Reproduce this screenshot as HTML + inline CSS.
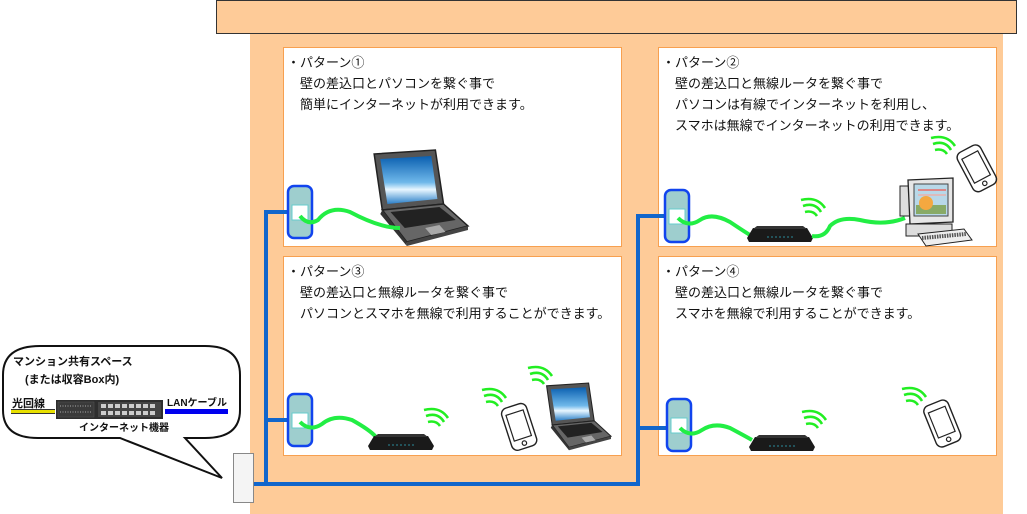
<!DOCTYPE html>
<html><head><meta charset="utf-8">
<style>
html,body{margin:0;padding:0;background:#fff;}
svg{display:block;}
text{font-family:"Liberation Sans","Noto Sans CJK JP",sans-serif;}
.t{font-size:13px;fill:#111;}
.b{font-size:11px;font-weight:bold;fill:#111;}
</style></head><body>
<svg width="1027" height="514" viewBox="0 0 1027 514" xmlns="http://www.w3.org/2000/svg">
<defs>
<linearGradient id="scr" x1="0" y1="0" x2="0" y2="1">
<stop offset="0" stop-color="#0a5fb0"/><stop offset="0.55" stop-color="#6fb8ea"/><stop offset="0.7" stop-color="#e8f6ff"/><stop offset="1" stop-color="#2a7fc8"/>
</linearGradient>
<g id="laptop">
<polygon points="8,4 68,0 76,54 16,60" fill="#555" stroke="#222" stroke-width="1.5"/>
<polygon points="14,9 64,6 70,49 21,54" fill="url(#scr)"/>
<polygon points="16,60 76,54 100,76 40,92" fill="#666" stroke="#222" stroke-width="1.5"/>
<polygon points="24,62 72,57 88,70 38,78" fill="#222"/>
<polygon points="58,78 72,75 78,82 64,85" fill="#aaa"/>
<polygon points="16,60 40,92 40,96 14,64" fill="#333"/>
<polygon points="40,92 100,76 100,80 40,96" fill="#444"/>
</g>
<g id="router">
<polygon points="6,4 60,4 66,14 64,18 2,18 0,14" fill="#1a1a1a"/>
<polygon points="10,2 56,2 60,5 6,5" fill="#333"/>
<line x1="20" y1="13" x2="46" y2="13" stroke="#2a8a9a" stroke-width="1" stroke-dasharray="2,2"/>
</g>
<g id="phone">
<rect x="0" y="0" width="26" height="44" rx="6" fill="#fff" stroke="#222" stroke-width="1.4"/>
<rect x="4" y="7" width="18" height="27" fill="#fff" stroke="#222" stroke-width="1.2"/>
<circle cx="13" cy="39" r="2.2" fill="none" stroke="#222" stroke-width="1.2"/>
</g>
<g id="wifi" fill="none" stroke="#22ee22" stroke-width="2.6">
<path d="M0,12 Q8,10 12,16"/><path d="M-2,6 Q10,2 16,12"/><path d="M-4,0 Q12,-4 20,8"/>
</g>
<g id="plate">
<rect x="0" y="0" width="24" height="52" rx="6" fill="#9ecece" stroke="#1144ee" stroke-width="2.5"/>
<rect x="4" y="19" width="16" height="15" fill="#fff" stroke="#6cc" stroke-width="1"/>
</g>
</defs>

<rect x="250" y="34" width="753" height="480" fill="#fecb98"/>
<rect x="216.5" y="0.5" width="800" height="33" fill="#fecb98" stroke="#333" stroke-width="1"/>

<rect x="283.5" y="47.5" width="338" height="199" fill="#fff" stroke="#f7a050" stroke-width="1"/>
<rect x="658.5" y="47.5" width="338" height="199" fill="#fff" stroke="#f7a050" stroke-width="1"/>
<rect x="283.5" y="256.5" width="338" height="199" fill="#fff" stroke="#f7a050" stroke-width="1"/>
<rect x="658.5" y="256.5" width="338" height="199" fill="#fff" stroke="#f7a050" stroke-width="1"/>

<g stroke="#1166cc" stroke-width="4" fill="none">
<polyline points="288,212 266,212 266,484"/>
<line x1="266" y1="420" x2="288" y2="420"/>
<polyline points="253,484 638,484 638,216 665,216"/>
<line x1="638" y1="428" x2="667" y2="428"/>
</g>

<text class="t" x="287" y="67">・パターン①</text>
<text class="t" x="300" y="88">壁の差込口とパソコンを繋ぐ事で</text>
<text class="t" x="300" y="109">簡単にインターネットが利用できます。</text>

<text class="t" x="662" y="67">・パターン②</text>
<text class="t" x="675" y="88">壁の差込口と無線ルータを繋ぐ事で</text>
<text class="t" x="675" y="109">パソコンは有線でインターネットを利用し、</text>
<text class="t" x="675" y="130">スマホは無線でインターネットの利用できます。</text>

<text class="t" x="287" y="276">・パターン③</text>
<text class="t" x="300" y="297">壁の差込口と無線ルータを繋ぐ事で</text>
<text class="t" x="300" y="318">パソコンとスマホを無線で利用することができます。</text>

<text class="t" x="662" y="276">・パターン④</text>
<text class="t" x="675" y="297">壁の差込口と無線ルータを繋ぐ事で</text>
<text class="t" x="675" y="318">スマホを無線で利用することができます。</text>

<use href="#laptop" transform="translate(366,150) scale(1.02,1)"/>
<use href="#plate" x="288" y="186"/>
<path d="M300,216 Q308,226 318,220 Q330,205 350,212 Q380,228 400,228" fill="none" stroke="#22ee44" stroke-width="4"/>

<use href="#plate" x="665" y="190"/>
<path d="M678,218 Q688,228 700,220 Q712,212 730,222 Q745,232 750,235" fill="none" stroke="#22ee44" stroke-width="4"/>
<use href="#router" x="747" y="224"/>
<path d="M812,236 Q825,238 830,226 Q840,216 860,220 Q885,226 905,218" fill="none" stroke="#22ee44" stroke-width="4"/>
<use href="#wifi" x="805" y="200"/>
<use href="#wifi" x="935" y="138"/>
<use href="#phone" transform="translate(955,155) rotate(-28)"/>
<g>
<rect x="900" y="186" width="12" height="30" fill="#ddd" stroke="#222"/>
<polygon points="908,180 953,178 953,222 910,224" fill="#e6e6e6" stroke="#222" stroke-width="1.3"/>
<rect x="914" y="184" width="34" height="32" fill="#b8d8e8" stroke="#444"/>
<rect x="916" y="205" width="30" height="9" fill="#8a6"/>
<circle cx="926" cy="203" r="7" fill="#f4a840"/>
<rect x="918" y="189" width="28" height="2" fill="#d88"/>
<rect x="918" y="194" width="28" height="2" fill="#dbb"/>
<rect x="906" y="224" width="46" height="12" fill="#ddd" stroke="#222"/>
<polygon points="918,234 964,229 972,240 926,246" fill="#eee" stroke="#222"/>
<line x1="922" y1="238" x2="966" y2="234" stroke="#555" stroke-width="4" stroke-dasharray="1.5,1"/>
</g>

<use href="#plate" x="288" y="394"/>
<path d="M300,422 Q310,432 322,424 Q334,414 352,420 Q370,430 376,437" fill="none" stroke="#22ee44" stroke-width="4"/>
<use href="#router" x="368" y="432"/>
<use href="#wifi" x="428" y="410"/>
<use href="#wifi" x="486" y="390"/>
<use href="#wifi" x="532" y="368"/>
<use href="#phone" transform="translate(500,410) rotate(-18)"/>
<use href="#laptop" transform="translate(541,383) scale(0.7)"/>

<use href="#plate" x="667" y="399"/>
<path d="M680,428 Q690,438 702,430 Q714,422 730,428 Q745,436 752,440" fill="none" stroke="#22ee44" stroke-width="4"/>
<use href="#router" x="749" y="433"/>
<use href="#wifi" x="806" y="412"/>
<use href="#wifi" x="906" y="389"/>
<use href="#phone" transform="translate(922,408) rotate(-22)"/>

<path d="M40,346 H205 Q240,346 240,375 V410 Q240,438 205,438 H185 L222,478 L120,438 H38 Q3,438 3,410 V375 Q3,346 40,346 Z" fill="#fff" stroke="#111" stroke-width="2"/>
<text class="b" x="13" y="365">マンション共有スペース</text>
<text class="b" x="25" y="383">(または収容Box内)</text>
<text class="b" x="12" y="407">光回線</text>
<rect x="11" y="410" width="44" height="3" fill="#e8e000"/>
<line x1="11" y1="409.5" x2="55" y2="409.5" stroke="#333" stroke-width="1"/>
<line x1="11" y1="413.5" x2="55" y2="413.5" stroke="#333" stroke-width="1"/>
<rect x="56" y="400" width="107" height="19" fill="#2e2e2e"/>
<rect x="58" y="402" width="36" height="15" fill="#3a3a3a" stroke="#555" stroke-width="0.5"/>
<rect x="98" y="402" width="63" height="15" fill="#444"/>
<g fill="#ccc">
<rect x="101" y="404" width="5" height="4"/><rect x="108" y="404" width="5" height="4"/><rect x="115" y="404" width="5" height="4"/><rect x="122" y="404" width="5" height="4"/><rect x="129" y="404" width="5" height="4"/><rect x="136" y="404" width="5" height="4"/><rect x="143" y="404" width="5" height="4"/><rect x="150" y="404" width="5" height="4"/>
<rect x="101" y="411" width="5" height="4"/><rect x="108" y="411" width="5" height="4"/><rect x="115" y="411" width="5" height="4"/><rect x="122" y="411" width="5" height="4"/><rect x="129" y="411" width="5" height="4"/><rect x="136" y="411" width="5" height="4"/><rect x="143" y="411" width="5" height="4"/><rect x="150" y="411" width="5" height="4"/>
</g>
<line x1="60" y1="406" x2="92" y2="406" stroke="#aaa" stroke-dasharray="1,1.5"/>
<line x1="60" y1="412" x2="92" y2="412" stroke="#aaa" stroke-dasharray="1,1.5"/>
<text class="b" x="167" y="406" style="font-size:10px">LANケーブル</text>
<rect x="165" y="409" width="63" height="5" fill="#0000ee"/>
<text class="b" x="79" y="431" style="font-size:10px">インターネット機器</text>

<rect x="233.5" y="453.5" width="20" height="49" fill="#f4f4f4" stroke="#888" stroke-width="1"/>
</svg>
</body></html>
